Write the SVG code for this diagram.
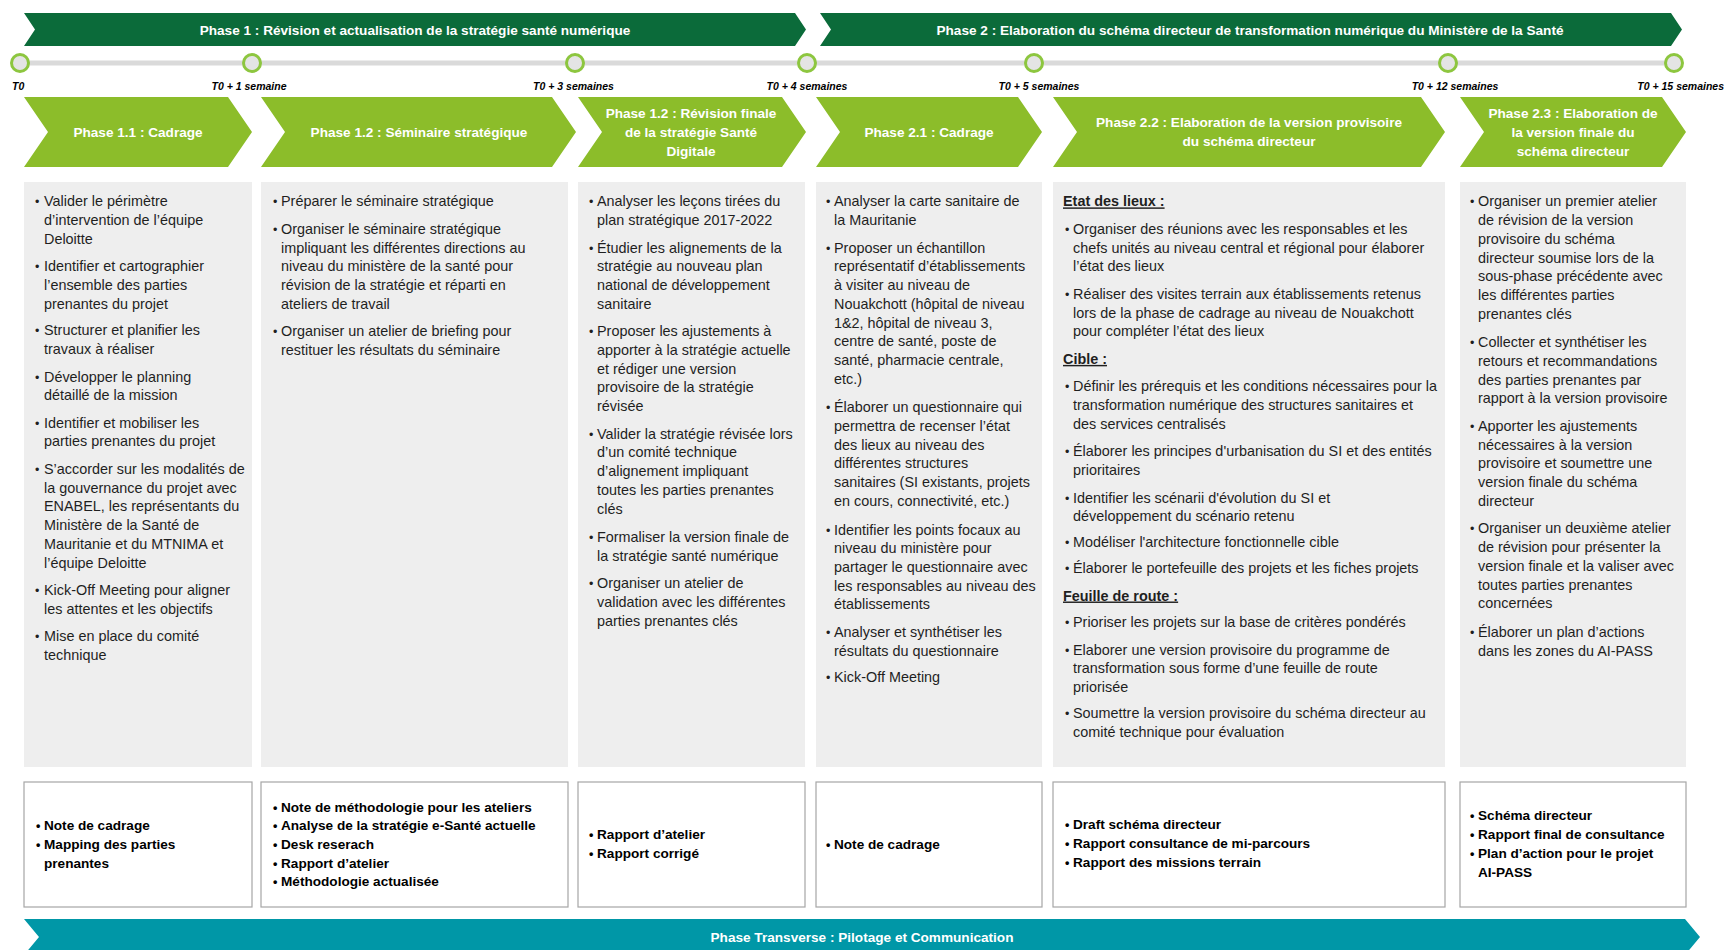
<svg xmlns="http://www.w3.org/2000/svg" width="1726" height="950" viewBox="0 0 1726 950">
<style>
text{font-family:"Liberation Sans",Arial,sans-serif}
.ban{fill:#0B6B3A}
.bant{fill:#fff;font-weight:bold;font-size:13.6px;text-anchor:middle}
.chev{fill:#8CBD2A}
.chevt{fill:#fff;font-weight:bold;font-size:13.6px;text-anchor:middle}
.box{fill:#EEEEEE}
.dbox{fill:#fff;stroke:#A6A6A6;stroke-width:1.2}
.b{font-size:14.4px;fill:#1f1f1f}
.bu{font-size:12.5px}
.hd{font-size:14.4px;fill:#1f1f1f;font-weight:bold;text-decoration:underline}
.d{font-size:13.6px;font-weight:bold;fill:#000}
.tl{font-size:10.5px;font-weight:bold;font-style:italic;fill:#000}
.ms{fill:#E4E4E4;stroke:#8DC63F;stroke-width:3}
.teal{fill:#0097A7}
</style>
<rect width="1726" height="950" fill="#fff"/>

<g id="connectors">
<line x1="20" y1="63" x2="1674" y2="63" stroke="#DADADA" stroke-width="5"/>
</g>

<g id="phase1-banner">
<polygon class="ban" points="24,13 795,13 806,29.5 795,46 24,46 35,29.5"/>
<text class="bant" x="415" y="34.5">Phase 1 : Révision et actualisation de la stratégie santé numérique</text>
</g>
<g id="phase2-banner">
<polygon class="ban" points="820,13 1671,13 1682,29.5 1671,46 820,46 831,29.5"/>
<text class="bant" x="1250" y="34.5">Phase 2 : Elaboration du schéma directeur de transformation numérique du Ministère de la Santé</text>
</g>

<g id="milestones">
<circle class="ms" cx="20" cy="63" r="8.5"/>
<circle class="ms" cx="252" cy="63" r="8.5"/>
<circle class="ms" cx="575" cy="63" r="8.5"/>
<circle class="ms" cx="807" cy="63" r="8.5"/>
<circle class="ms" cx="1034" cy="63" r="8.5"/>
<circle class="ms" cx="1448" cy="63" r="8.5"/>
<circle class="ms" cx="1674" cy="63" r="8.5"/>
<text class="tl" x="12" y="89.5">T0</text>
<text class="tl" x="249" y="89.5" text-anchor="middle">T0 + 1 semaine</text>
<text class="tl" x="573.5" y="89.5" text-anchor="middle">T0 + 3 semaines</text>
<text class="tl" x="807" y="89.5" text-anchor="middle">T0 + 4 semaines</text>
<text class="tl" x="1039" y="89.5" text-anchor="middle">T0 + 5 semaines</text>
<text class="tl" x="1455" y="89.5" text-anchor="middle">T0 + 12 semaines</text>
<text class="tl" x="1724" y="89.5" text-anchor="end">T0 + 15 semaines</text>
</g>

<g id="phase-1-1">
<polygon class="chev" points="24,97 228,97 252,132 228,167 24,167 48,132"/>
<text class="chevt" x="138" y="136.9">Phase 1.1 : Cadrage</text>
<rect class="box" x="24" y="182" width="228" height="585"/>
<text class="b" y="206.4"><tspan class="bu" x="35">•</tspan><tspan x="44">Valider le périmètre</tspan><tspan x="44" dy="18.7">d’intervention de l’équipe</tspan><tspan x="44" dy="18.7">Deloitte</tspan></text>
<text class="b" y="271.4"><tspan class="bu" x="35">•</tspan><tspan x="44">Identifier et cartographier</tspan><tspan x="44" dy="18.7">l’ensemble des parties</tspan><tspan x="44" dy="18.7">prenantes du projet</tspan></text>
<text class="b" y="335.2"><tspan class="bu" x="35">•</tspan><tspan x="44">Structurer et planifier les</tspan><tspan x="44" dy="18.7">travaux à réaliser</tspan></text>
<text class="b" y="381.5"><tspan class="bu" x="35">•</tspan><tspan x="44">Développer le planning</tspan><tspan x="44" dy="18.7">détaillé de la mission</tspan></text>
<text class="b" y="427.7"><tspan class="bu" x="35">•</tspan><tspan x="44">Identifier et mobiliser les</tspan><tspan x="44" dy="18.7">parties prenantes du projet</tspan></text>
<text class="b" y="474"><tspan class="bu" x="35">•</tspan><tspan x="44">S’accorder sur les modalités de</tspan><tspan x="44" dy="18.7">la gouvernance du projet avec</tspan><tspan x="44" dy="18.7">ENABEL, les représentants du</tspan><tspan x="44" dy="18.7">Ministère de la Santé de</tspan><tspan x="44" dy="18.7">Mauritanie et du MTNIMA et</tspan><tspan x="44" dy="18.7">l’équipe Deloitte</tspan></text>
<text class="b" y="595"><tspan class="bu" x="35">•</tspan><tspan x="44">Kick-Off Meeting pour aligner</tspan><tspan x="44" dy="18.7">les attentes et les objectifs</tspan></text>
<text class="b" y="641.3"><tspan class="bu" x="35">•</tspan><tspan x="44">Mise en place du comité</tspan><tspan x="44" dy="18.7">technique</tspan></text>
<rect class="dbox" x="24" y="782" width="228" height="125"/>
<text class="d" y="830.3"><tspan class="bu" x="36">•</tspan><tspan x="44">Note de cadrage</tspan><tspan class="bu" x="36" dy="18.7">•</tspan><tspan x="44">Mapping des parties</tspan><tspan x="44" dy="18.7">prenantes</tspan></text>
</g>

<g id="phase-1-2">
<polygon class="chev" points="261,97 552,97 576,132 552,167 261,167 285,132"/>
<text class="chevt" x="419" y="136.9">Phase 1.2 : Séminaire stratégique</text>
<rect class="box" x="261" y="182" width="307" height="585"/>
<text class="b" y="206.4"><tspan class="bu" x="273">•</tspan><tspan x="281">Préparer le séminaire stratégique</tspan></text>
<text class="b" y="234"><tspan class="bu" x="273">•</tspan><tspan x="281">Organiser le séminaire stratégique</tspan><tspan x="281" dy="18.7">impliquant les différentes directions au</tspan><tspan x="281" dy="18.7">niveau du ministère de la santé pour</tspan><tspan x="281" dy="18.7">révision de la stratégie et réparti en</tspan><tspan x="281" dy="18.7">ateliers de travail</tspan></text>
<text class="b" y="336.3"><tspan class="bu" x="273">•</tspan><tspan x="281">Organiser un atelier de briefing pour</tspan><tspan x="281" dy="18.7">restituer les résultats du séminaire</tspan></text>
<rect class="dbox" x="261" y="782" width="307" height="125"/>
<text class="d" y="811.6"><tspan class="bu" x="273">•</tspan><tspan x="281">Note de méthodologie pour les ateliers</tspan><tspan class="bu" x="273" dy="18.7">•</tspan><tspan x="281">Analyse de la stratégie e-Santé actuelle</tspan><tspan class="bu" x="273" dy="18.7">•</tspan><tspan x="281">Desk reserach</tspan><tspan class="bu" x="273" dy="18.7">•</tspan><tspan x="281">Rapport d’atelier</tspan><tspan class="bu" x="273" dy="18.7">•</tspan><tspan x="281">Méthodologie actualisée</tspan></text>
</g>

<g id="phase-1-2-revision">
<polygon class="chev" points="578,97 782,97 806,132 782,167 578,167 602,132"/>
<text class="chevt" y="118.2"><tspan x="691">Phase 1.2 : Révision finale</tspan><tspan x="691" dy="18.7">de la stratégie Santé</tspan><tspan x="691" dy="18.7">Digitale</tspan></text>
<rect class="box" x="578" y="182" width="227" height="585"/>
<text class="b" y="206.4"><tspan class="bu" x="589">•</tspan><tspan x="597">Analyser les leçons tirées du</tspan><tspan x="597" dy="18.7">plan stratégique 2017-2022</tspan></text>
<text class="b" y="252.7"><tspan class="bu" x="589">•</tspan><tspan x="597">Étudier les alignements de la</tspan><tspan x="597" dy="18.7">stratégie au nouveau plan</tspan><tspan x="597" dy="18.7">national de développement</tspan><tspan x="597" dy="18.7">sanitaire</tspan></text>
<text class="b" y="336.3"><tspan class="bu" x="589">•</tspan><tspan x="597">Proposer les ajustements à</tspan><tspan x="597" dy="18.7">apporter à la stratégie actuelle</tspan><tspan x="597" dy="18.7">et rédiger une version</tspan><tspan x="597" dy="18.7">provisoire de la stratégie</tspan><tspan x="597" dy="18.7">révisée</tspan></text>
<text class="b" y="438.7"><tspan class="bu" x="589">•</tspan><tspan x="597">Valider la stratégie révisée lors</tspan><tspan x="597" dy="18.7">d’un comité technique</tspan><tspan x="597" dy="18.7">d’alignement impliquant</tspan><tspan x="597" dy="18.7">toutes les parties prenantes</tspan><tspan x="597" dy="18.7">clés</tspan></text>
<text class="b" y="542.2"><tspan class="bu" x="589">•</tspan><tspan x="597">Formaliser la version finale de</tspan><tspan x="597" dy="18.7">la stratégie santé numérique</tspan></text>
<text class="b" y="588.4"><tspan class="bu" x="589">•</tspan><tspan x="597">Organiser un atelier de</tspan><tspan x="597" dy="18.7">validation avec les différentes</tspan><tspan x="597" dy="18.7">parties prenantes clés</tspan></text>
<rect class="dbox" x="578" y="782" width="227" height="125"/>
<text class="d" y="839.1"><tspan class="bu" x="589">•</tspan><tspan x="597">Rapport d’atelier</tspan><tspan class="bu" x="589" dy="18.7">•</tspan><tspan x="597">Rapport corrigé</tspan></text>
</g>

<g id="phase-2-1">
<polygon class="chev" points="816,97 1018,97 1042,132 1018,167 816,167 840,132"/>
<text class="chevt" x="929" y="136.9">Phase 2.1 : Cadrage</text>
<rect class="box" x="816" y="182" width="226" height="585"/>
<text class="b" y="206.4"><tspan class="bu" x="826">•</tspan><tspan x="834">Analyser la carte sanitaire de</tspan><tspan x="834" dy="18.7">la Mauritanie</tspan></text>
<text class="b" y="252.7"><tspan class="bu" x="826">•</tspan><tspan x="834">Proposer un échantillon</tspan><tspan x="834" dy="18.7">représentatif d’établissements</tspan><tspan x="834" dy="18.7">à visiter au niveau de</tspan><tspan x="834" dy="18.7">Nouakchott (hôpital de niveau</tspan><tspan x="834" dy="18.7">1&amp;2, hôpital de niveau 3,</tspan><tspan x="834" dy="18.7">centre de santé, poste de</tspan><tspan x="834" dy="18.7">santé, pharmacie centrale,</tspan><tspan x="834" dy="18.7">etc.)</tspan></text>
<text class="b" y="412.3"><tspan class="bu" x="826">•</tspan><tspan x="834">Élaborer un questionnaire qui</tspan><tspan x="834" dy="18.7">permettra de recenser l’état</tspan><tspan x="834" dy="18.7">des lieux au niveau des</tspan><tspan x="834" dy="18.7">différentes structures</tspan><tspan x="834" dy="18.7">sanitaires (SI existants, projets</tspan><tspan x="834" dy="18.7">en cours, connectivité, etc.)</tspan></text>
<text class="b" y="534.5"><tspan class="bu" x="826">•</tspan><tspan x="834">Identifier les points focaux au</tspan><tspan x="834" dy="18.7">niveau du ministère pour</tspan><tspan x="834" dy="18.7">partager le questionnaire avec</tspan><tspan x="834" dy="18.7">les responsables au niveau des</tspan><tspan x="834" dy="18.7">établissements</tspan></text>
<text class="b" y="636.9"><tspan class="bu" x="826">•</tspan><tspan x="834">Analyser et synthétiser les</tspan><tspan x="834" dy="18.7">résultats du questionnaire</tspan></text>
<text class="b" y="682"><tspan class="bu" x="826">•</tspan><tspan x="834">Kick-Off Meeting</tspan></text>
<rect class="dbox" x="816" y="782" width="226" height="125"/>
<text class="d" y="849"><tspan class="bu" x="826">•</tspan><tspan x="834">Note de cadrage</tspan></text>
</g>

<g id="phase-2-2">
<polygon class="chev" points="1053,97 1421,97 1445,132 1421,167 1053,167 1077,132"/>
<text class="chevt" y="127"><tspan x="1249">Phase 2.2 : Elaboration de la version provisoire</tspan><tspan x="1249" dy="18.7">du schéma directeur</tspan></text>
<rect class="box" x="1053" y="182" width="392" height="585"/>
<text class="hd" x="1063" y="206.4">Etat des lieux :</text>
<text class="b" y="234"><tspan class="bu" x="1065">•</tspan><tspan x="1073">Organiser des réunions avec les responsables et les</tspan><tspan x="1073" dy="18.7">chefs unités au niveau central et régional pour élaborer</tspan><tspan x="1073" dy="18.7">l’état des lieux</tspan></text>
<text class="b" y="298.9"><tspan class="bu" x="1065">•</tspan><tspan x="1073">Réaliser des visites terrain aux établissements retenus</tspan><tspan x="1073" dy="18.7">lors de la phase de cadrage au niveau de Nouakchott</tspan><tspan x="1073" dy="18.7">pour compléter l’état des lieux</tspan></text>
<text class="hd" x="1063" y="363.9">Cible :</text>
<text class="b" y="391.4"><tspan class="bu" x="1065">•</tspan><tspan x="1073">Définir les prérequis et les conditions nécessaires pour la</tspan><tspan x="1073" dy="18.7">transformation numérique des structures sanitaires et</tspan><tspan x="1073" dy="18.7">des services centralisés</tspan></text>
<text class="b" y="456.3"><tspan class="bu" x="1065">•</tspan><tspan x="1073">Élaborer les principes d'urbanisation du SI et des entités</tspan><tspan x="1073" dy="18.7">prioritaires</tspan></text>
<text class="b" y="502.6"><tspan class="bu" x="1065">•</tspan><tspan x="1073">Identifier les scénarii d'évolution du SI et</tspan><tspan x="1073" dy="18.7">développement du scénario retenu</tspan></text>
<text class="b" y="546.6"><tspan class="bu" x="1065">•</tspan><tspan x="1073">Modéliser l'architecture fonctionnelle cible</tspan></text>
<text class="b" y="573"><tspan class="bu" x="1065">•</tspan><tspan x="1073">Élaborer le portefeuille des projets et les fiches projets</tspan></text>
<text class="hd" x="1063" y="600.5">Feuille de route :</text>
<text class="b" y="627"><tspan class="bu" x="1065">•</tspan><tspan x="1073">Prioriser les projets sur la base de critères pondérés</tspan></text>
<text class="b" y="654.5"><tspan class="bu" x="1065">•</tspan><tspan x="1073">Elaborer une version provisoire du programme de</tspan><tspan x="1073" dy="18.7">transformation sous forme d’une feuille de route</tspan><tspan x="1073" dy="18.7">priorisée</tspan></text>
<text class="b" y="718.3"><tspan class="bu" x="1065">•</tspan><tspan x="1073">Soumettre la version provisoire du schéma directeur au</tspan><tspan x="1073" dy="18.7">comité technique pour évaluation</tspan></text>
<rect class="dbox" x="1053" y="782" width="392" height="125"/>
<text class="d" y="829.2"><tspan class="bu" x="1065">•</tspan><tspan x="1073">Draft schéma directeur</tspan><tspan class="bu" x="1065" dy="18.7">•</tspan><tspan x="1073">Rapport consultance de mi-parcours</tspan><tspan class="bu" x="1065" dy="18.7">•</tspan><tspan x="1073">Rapport des missions terrain</tspan></text>
</g>

<g id="phase-2-3">
<polygon class="chev" points="1460,97 1662,97 1686,132 1662,167 1460,167 1484,132"/>
<text class="chevt" y="118.2"><tspan x="1573">Phase 2.3 : Elaboration de</tspan><tspan x="1573" dy="18.7">la version finale du</tspan><tspan x="1573" dy="18.7">schéma directeur</tspan></text>
<rect class="box" x="1460" y="182" width="226" height="585"/>
<text class="b" y="206.4"><tspan class="bu" x="1470">•</tspan><tspan x="1478">Organiser un premier atelier</tspan><tspan x="1478" dy="18.7">de révision de la version</tspan><tspan x="1478" dy="18.7">provisoire du schéma</tspan><tspan x="1478" dy="18.7">directeur soumise lors de la</tspan><tspan x="1478" dy="18.7">sous-phase précédente avec</tspan><tspan x="1478" dy="18.7">les différentes parties</tspan><tspan x="1478" dy="18.7">prenantes clés</tspan></text>
<text class="b" y="347.3"><tspan class="bu" x="1470">•</tspan><tspan x="1478">Collecter et synthétiser les</tspan><tspan x="1478" dy="18.7">retours et recommandations</tspan><tspan x="1478" dy="18.7">des parties prenantes par</tspan><tspan x="1478" dy="18.7">rapport à la version provisoire</tspan></text>
<text class="b" y="431"><tspan class="bu" x="1470">•</tspan><tspan x="1478">Apporter les ajustements</tspan><tspan x="1478" dy="18.7">nécessaires à la version</tspan><tspan x="1478" dy="18.7">provisoire et soumettre une</tspan><tspan x="1478" dy="18.7">version finale du schéma</tspan><tspan x="1478" dy="18.7">directeur</tspan></text>
<text class="b" y="533.4"><tspan class="bu" x="1470">•</tspan><tspan x="1478">Organiser un deuxième atelier</tspan><tspan x="1478" dy="18.7">de révision pour présenter la</tspan><tspan x="1478" dy="18.7">version finale et la valiser avec</tspan><tspan x="1478" dy="18.7">toutes parties prenantes</tspan><tspan x="1478" dy="18.7">concernées</tspan></text>
<text class="b" y="636.9"><tspan class="bu" x="1470">•</tspan><tspan x="1478">Élaborer un plan d’actions</tspan><tspan x="1478" dy="18.7">dans les zones du AI-PASS</tspan></text>
<rect class="dbox" x="1460" y="782" width="226" height="125"/>
<text class="d" y="820.4"><tspan class="bu" x="1470">•</tspan><tspan x="1478">Schéma directeur</tspan><tspan class="bu" x="1470" dy="18.7">•</tspan><tspan x="1478">Rapport final de consultance</tspan><tspan class="bu" x="1470" dy="18.7">•</tspan><tspan x="1478">Plan d’action pour le projet</tspan><tspan x="1478" dy="18.7">AI-PASS</tspan></text>
</g>

<g id="phase-transverse">
<polygon class="teal" points="24,919 1685,919 1700,937 1685,955 24,955 39,937"/>
<text class="bant" x="862" y="941.8">Phase Transverse : Pilotage et Communication</text>
</g>
</svg>
